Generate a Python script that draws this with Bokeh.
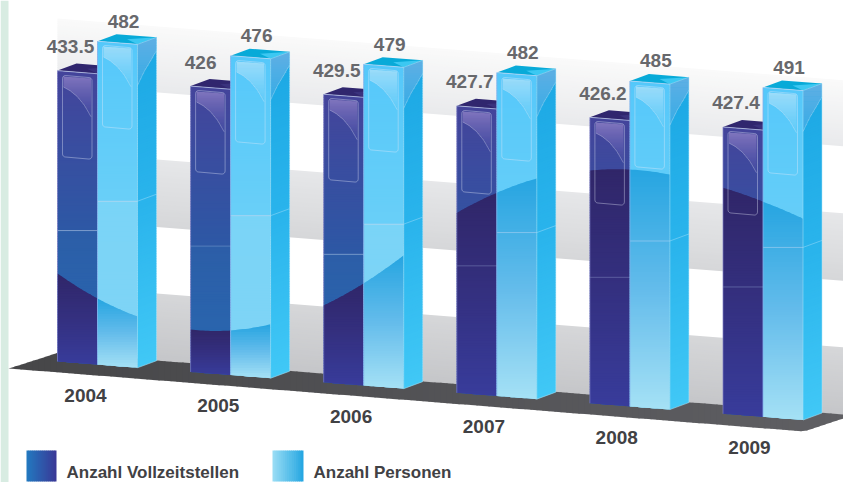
import numpy as np
from bokeh.plotting import figure
from bokeh.models import Range1d, ColumnDataSource
from bokeh.core.properties import value
from bokeh.embed import file_html
from bokeh.resources import INLINE

years = ["2004", "2005", "2006", "2007", "2008", "2009"]
vollzeitstellen = [433.5, 426, 429.5, 427.7, 426.2, 427.4]
personen = [482, 476, 479, 482, 485, 491]
series_names = ["Anzahl Vollzeitstellen", "Anzahl Personen"]

W, H = 843, 482
STEP = 133.1      # px per category
UNIT = 0.671      # px per value unit
X0, Y0 = 57.0, 361.0
SL = 0.0785       # floor slope
SW, SD = 19.0, 7.0
TEXT_SHIFT = 8.0

def to_x(px): return (np.asarray(px, float) - X0) / STEP
def to_y(py): return (Y0 - np.asarray(py, float)) / UNIT
def base(x): return Y0 + SL * (np.asarray(x, float) - X0)
def top(x, v): return base(x) - UNIT * v

# shading swoosh across the fronts of the bars (left, middle, right of each pair)
cx = [57, 97, 137, 190, 230, 269, 323, 363, 403, 457, 497, 536, 590, 629, 668, 722, 762, 802]
cy = [273, 298, 316, 329, 330, 324, 305, 283, 255, 212, 192, 178, 170, 169, 174, 187, 201, 218]
def curve(x, i):
    return np.polyval(np.polyfit(cx[3 * i:3 * i + 3], cy[3 * i:3 * i + 3], 2), x)

P = dict(xs=[], ys=[], c=[], a=[])
L = dict(xs=[], ys=[], c=[], a=[], w=[])

def hexc(rgb): return "#%02x%02x%02x" % tuple(int(round(v)) for v in rgb)

def stop(t, stops):
    ts = [s[0] for s in stops]
    vals = [np.interp(t, ts, [s[1][k] for s in stops]) for k in range(len(stops[0][1]))]
    return vals

def poly(x, y, col, a=1.0):
    P["xs"].append(to_x(x).tolist()); P["ys"].append(to_y(y).tolist())
    P["c"].append(col if isinstance(col, str) else hexc(col)); P["a"].append(a)

def line(x, y, col, a=1.0, w=1.0):
    L["xs"].append(to_x(x).tolist()); L["ys"].append(to_y(y).tolist())
    L["c"].append(col if isinstance(col, str) else hexc(col)); L["a"].append(a); L["w"].append(w)

def region(xs, ya, yb, y0, y1, stops, slope=0.0, n=None, overlap=1.2):
    """Fill between edges ya..yb with a gradient running y0..y1 (strips may be sloped)."""
    xs = np.asarray(xs, float)
    n = n or max(2, int((y1 - y0) / 2.5))
    sh = slope * (xs - xs[0])
    for k in range(n):
        t0 = y0 + (y1 - y0) * k / n
        t1 = y0 + (y1 - y0) * (k + 1) / n
        a = np.maximum(t0 + sh, ya)
        b = np.minimum(t1 + overlap + sh, yb)
        b = np.maximum(a, b)
        if np.all(b - a <= 0.01):
            continue
        rgb = stop((k + .5) / n, stops)
        col = rgb[:3]
        al = rgb[3] if len(rgb) > 3 else 1.0
        poly(np.r_[xs, xs[::-1]], np.r_[a, b[::-1]], col, al)

def rrect(x0, x1, y0, h, r=3.0):
    pts = []
    dy = lambda x: y0 + 0.07 * (x - x0)
    for cxx, cyy, a0 in [(x0 + r, dy(x0) + r, 180), (x1 - r, dy(x1) + r, 270),
                         (x1 - r, dy(x1) + h - r, 0), (x0 + r, dy(x0) + h - r, 90)]:
        for a in np.radians(np.linspace(a0, a0 + 90, 5)):
            pts.append((cxx + r * np.cos(a), cyy + r * np.sin(a)))
    pts.append(pts[0])
    p_ = np.array(pts)
    return p_[:, 0], p_[:, 1]

# ---- background -------------------------------------------------------------
poly([0, 8, 8, 0], [0, 0, H, H], (216, 236, 226))
band_x = np.array([57.0, 843.0])
for y157, hgt, c0, c1 in [(25.9, 66, (250, 250, 250), (233, 234, 236)),
                          (159, 67.5, (230, 231, 233), (214, 215, 217)),
                          (293, 68, (214, 215, 217), (197, 198, 201))]:
    t0 = y157 + SL * (band_x - 157)
    region(band_x, t0, t0 + hgt, t0[0], t0[0] + hgt, [(0, c0), (1, c1)], slope=SL, n=30)

# floor
fx = np.arange(8, 844, 6.0)
f_top = np.where(fx < 57, 368 + (352.3 - 368) * (fx - 8) / 49, 352.3 + SL * (fx - 57))
f_bot = np.where(fx < 803, 368 + 0.0792 * (fx - 8), 431 - 0.33 * (fx - 803))
for k in range(len(fx) - 1):
    t = k / (len(fx) - 2)
    col = stop(t, [(0, (70, 70, 72)), (1, (95, 95, 99))])
    xx = [fx[k], fx[k + 1] + 1, fx[k + 1] + 1, fx[k]]
    poly(xx, [f_top[k], f_top[k + 1], f_bot[k + 1], f_bot[k]], col)

# ---- bars -------------------------------------------------------------------
DARK_UP = [(0, (68, 68, 155)), (1, (45, 88, 165))]
DARK_MID = [(0, (44, 94, 168)), (1, (40, 104, 176))]
DARK_LOW = [(0, (48, 38, 105)), (.5, (52, 48, 128)), (1, (56, 60, 155))]
LIGHT_UP = [(0, (85, 200, 250)), (1, (105, 207, 248))]
LIGHT_MID = [(0, (122, 212, 247)), (1, (128, 212, 245))]
LIGHT_LOW = [(0, (38, 165, 225)), (.5, (100, 188, 235)), (1, (165, 225, 245))]

def front(i, x0, v, up, mid, low, glow, line_a):
    xs = np.linspace(x0, x0 + 40, 17)
    ya, yb = top(xs, v), base(xs)
    yt = top(x0, v)
    seg = yt + 160
    region(xs, ya, np.minimum(yb, seg + 0 * xs), yt, seg, up)
    region(xs, np.maximum(ya, seg), yb, seg, base(x0 + 40), mid)
    c = curve(xs, i)
    region(xs, np.maximum(ya, c), yb, c.min(), yb.max(), low)
    # glass panel
    rx0, rx1 = x0 + 5, x0 + 34.5
    ry = round(yt + 4.5)
    gx = np.linspace(rx0 + 1, rx1 - 1, 13)
    gt = ry + 0.07 * (gx - rx0) + 1
    gb = ry + np.interp((gx - rx0) / 29.5, [0, .25, .5, .75, 1], [11, 15, 21, 30, 43])
    region(gx, gt, gb, ry, ry + 43, glow, n=43, overlap=0)
    rx, ryy = rrect(rx0, rx1, ry, 81.5)
    line(rx, ryy, (230, 235, 250), 0.38, 1)
    line(gx, gb, (235, 240, 250), 0.3, 1)
    # segment line, edges
    line([x0, x0 + 40], [seg, seg], (190, 215, 245), line_a, 1)
    line([x0, x0 + 40], [yt, top(x0 + 40, v)], (200, 215, 245), 0.65, 1)
    return seg

def top_face(x0, v, c1, c2):
    yl, yr = top(x0, v), top(x0 + 40, v)
    poly([x0, x0 + 40, x0 + 40 + SW, x0 + SW], [yl, yr, yr - SD, yl - SD], c1)
    poly([x0 + 40, x0 + 40 + SW, x0 + 20 + SW / 2], [yr, yr - SD, (yl + yr) / 2 - SD / 2], c2)

def side(xr, v, seg):
    xs = np.array([xr, xr + SW])
    sl = -SD / SW
    yt = top(xr, v)
    y0b = base(xr)
    region(xs, yt + sl * (xs - xr), y0b + sl * (xs - xr), yt, y0b,
           [(0, (28, 168, 228)), (.5, (42, 180, 236)), (1, (65, 200, 246))], slope=sl)
    hx = np.linspace(xr, xr + SW, 9)
    he = yt + np.interp((hx - xr) / SW, [0, .35, .7, 1], [41, 27, 16, 6])
    region(hx, yt + sl * (hx - xr), he, yt - SD, yt + 41,
           [(0, (95, 175, 228)), (1, (55, 172, 230))], overlap=0.6)
    line(hx, he, (170, 220, 245), 0.45, 1)
    line([xr, xr + SW], [seg, seg - SD], (170, 225, 250), 0.45, 1)
    line([xr, xr, xr + SW], [yt, y0b, y0b - SD], (165, 225, 248), 0.55, 1)
    line([xr, xr + SW, xr + SW], [yt, yt - SD, y0b - SD], (170, 228, 250), 0.5, 1)

labels_x, labels_y, labels_t = [], [], []
for i, (d, l) in enumerate(zip(vollzeitstellen, personen)):
    x_d = X0 + STEP * i
    x_l = x_d + 40
    top_face(x_d, d, (48, 38, 110), (58, 50, 125))
    front(i, x_d, d, DARK_UP, DARK_MID, DARK_LOW,
          [(0, (175, 155, 215, .72)), (1, (110, 100, 190, .08))], 0.28)
    line([x_d, x_d], [top(x_d, d), base(x_d)], (125, 125, 195), 0.7, 1)
    top_face(x_l, l, (8, 170, 216), (60, 200, 242))
    seg = front(i, x_l, l, LIGHT_UP, LIGHT_MID, LIGHT_LOW,
                [(0, (225, 240, 250, .62)), (1, (180, 230, 250, .04))], 0.5)
    line([x_l, x_l], [top(x_l, l), base(x_l)], (130, 175, 235), 0.8, 1)
    side(x_l + 40, l, seg)
    labels_x += [x_d + (13 if d != int(d) else 10), x_l + 26]
    labels_y += [top(x_d, d) - 16 - TEXT_SHIFT, top(x_l, l) - 12 - TEXT_SHIFT]
    labels_t += [str(d) if d != int(d) else str(int(d)), str(l)]

# ---- legend swatches --------------------------------------------------------
for x0, x1, c0, c1 in [(26, 56, (34, 122, 192), (58, 55, 150)), (272, 303, (155, 222, 245), (34, 165, 225))]:
    n = 15
    for k in range(n):
        a = x0 + (x1 - x0) * k / n
        b = x0 + (x1 - x0) * (k + 1) / n + (0.6 if k < n - 1 else 0)
        poly([a, b, b, a], [450, 450, 481, 481], stop((k + .5) / n, [(0, c0), (1, c1)]))

# ---- figure -----------------------------------------------------------------
p = figure(width=W, height=H, output_backend="svg", toolbar_location=None,
           x_range=Range1d(float(to_x(0)), float(to_x(W))),
           y_range=Range1d(float(to_y(H)), float(to_y(0))),
           min_border=0, outline_line_color=None, background_fill_color="white",
           border_fill_color="white")
p.axis.visible = False
p.grid.visible = False

p.patches("xs", "ys", source=ColumnDataSource(P), fill_color="c", fill_alpha="a", line_color=None)
p.multi_line("xs", "ys", source=ColumnDataSource(L), line_color="c", line_alpha="a", line_width="w")

FONT = value("Liberation Sans")
p.text(to_x(labels_x), to_y(labels_y), text=labels_t, text_font=FONT, text_font_size="19px",
       text_color="#67686c", text_align="center", text_baseline="alphabetic", text_font_style="bold")
yx = [85 + 132.8 * i for i in range(len(years))]
yy = [403 - TEXT_SHIFT + 10.4 * i for i in range(len(years))]
p.text(to_x(yx), to_y(yy), text=years, text_font=FONT, text_font_size="19px",
       text_color="#414144", text_align="center", text_baseline="alphabetic", text_font_style="bold")
p.text(to_x([66, 313]), to_y([480 - TEXT_SHIFT] * 2), text=series_names, text_font=FONT, text_font_size="17px",
       text_color="#414144", text_align="left", text_baseline="alphabetic", text_font_style="bold")

open("out.html", "w").write(file_html(p, INLINE))
